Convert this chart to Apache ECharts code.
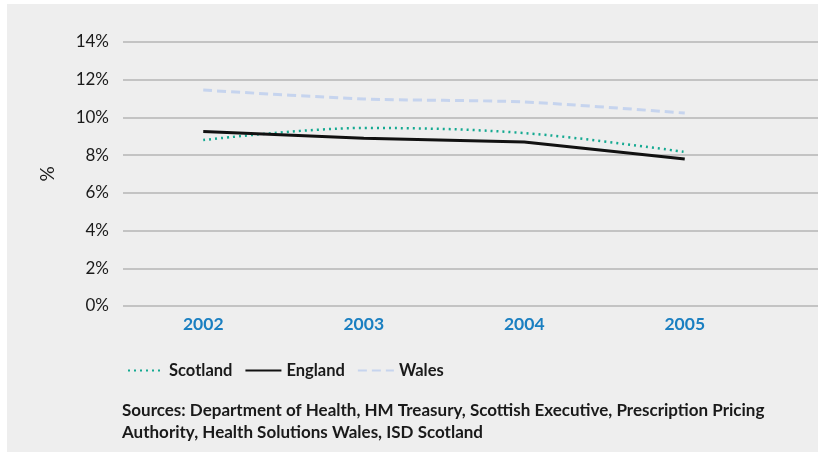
<!DOCTYPE html>
<html><head><meta charset="utf-8">
<script src="https://cdn.jsdelivr.net/npm/echarts@6/dist/echarts.min.js"></script>
<style>html,body{margin:0;padding:0;background:#fff}#c{width:818px;height:455px}</style>
</head><body><div id="c"></div>
<script>
const categories = [2002, 2003, 2004, 2005];
const scotland = [8.8, 9.44, 9.17, 8.17];
const england = [9.25, 8.9, 8.7, 7.8];
const wales = [11.45, 10.98, 10.82, 10.23];
const yTicks = [0, 2, 4, 6, 8, 10, 12, 14];
const sourceText = 'Sources: Department of Health, HM Treasury, Scottish Executive, Prescription Pricing\nAuthority, Health Solutions Wales, ISD Scotland';

const pairs = arr => arr.map((v, i) => [categories[i], v]);
const chart = echarts.init(document.getElementById('c'), null, {renderer: 'canvas'});
const font = 'Lato, "Open Sans", sans-serif';
chart.setOption({
  animation: false,
  backgroundColor: '#ffffff',
  graphic: [
    {type: 'rect', shape: {x: 7, y: 4, width: 811, height: 448}, style: {fill: '#eeeeee'}, z: -10},
    {type: 'text', left: 122, top: 400, style: {text: sourceText, font: 'bold 17px ' + font, fill: '#1a1a1a', lineHeight: 22}}
  ],
  grid: {left: 123, right: 0, top: 42, bottom: 149},
  legend: {
    left: 122, top: 357, itemWidth: 36, itemHeight: 14, itemGap: 12,
    itemStyle: {opacity: 0},
    textStyle: {fontFamily: font, fontWeight: 'bold', fontSize: 16.5, color: '#1a1a1a'},
    data: ['Scotland', 'England', 'Wales']
  },
  xAxis: {
    type: 'value', min: 2001.5, max: 2001.5 + 695 / 160.5,
    splitLine: {show: false},
    axisLine: {show: false}, axisTick: {show: false},
    axisLabel: {customValues: categories, formatter: v => String(v), color: '#1a7fc1', fontFamily: font, fontWeight: 'bold', fontSize: 17.5, margin: 9}
  },
  yAxis: {
    type: 'value', min: 0, max: 14, interval: 2,
    name: '%', nameLocation: 'middle', nameGap: 66, nameRotate: 90,
    nameTextStyle: {color: '#1a1a1a', fontFamily: font, fontSize: 19},
    axisLine: {show: false}, axisTick: {show: false},
    axisLabel: {formatter: v => yTicks.includes(v) ? v + '%' : '', color: '#1a1a1a', fontFamily: font, fontSize: 17, margin: 14},
    splitLine: {lineStyle: {color: '#b4b4b4', width: 1.5}}
  },
  series: [
    {name: 'Scotland', type: 'line', data: pairs(scotland), smooth: 0.35, symbol: 'none',
     lineStyle: {color: '#14a991', width: 2.5, type: [2, 4]}, itemStyle: {color: '#14a991'}},
    {name: 'England', type: 'line', data: pairs(england), smooth: false, symbol: 'none',
     lineStyle: {color: '#111111', width: 3}, itemStyle: {color: '#111111'}},
    {name: 'Wales', type: 'line', data: pairs(wales), smooth: 0.25, symbol: 'none',
     lineStyle: {color: '#c6d4ee', width: 3, type: [9, 5]}, itemStyle: {color: '#c6d4ee'}}
  ]
});
</script></body></html>
